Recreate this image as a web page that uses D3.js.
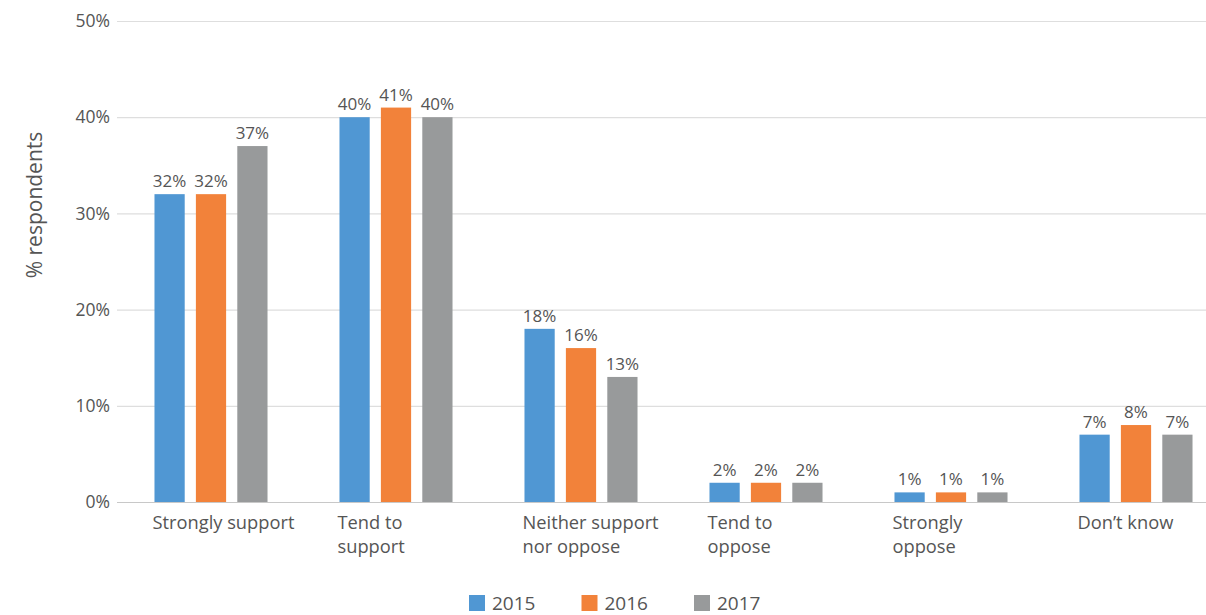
<!DOCTYPE html>
<html>
<head>
<meta charset="utf-8">
<script src="https://cdn.jsdelivr.net/npm/d3@7"></script>
<style>
  html, body { margin: 0; padding: 0; background: #ffffff; }
  svg { display: block; font-family: "Open Sans", "Noto Sans", sans-serif; }
</style>
</head>
<body>
<svg id="chart" width="1206" height="615"></svg>
<script>
// Survey answers, grouped by year
const categories = ["Strongly support", "Tend to support", "Neither support nor oppose", "Tend to oppose", "Strongly oppose", "Don\u2019t know"];
const categoryLines = [["Strongly support"], ["Tend to", "support"], ["Neither support", "nor oppose"], ["Tend to", "oppose"], ["Strongly", "oppose"], ["Don\u2019t know"]];
const years = ["2015", "2016", "2017"];
const values2015 = [32, 40, 18, 2, 1, 7];
const values2016 = [32, 41, 16, 2, 1, 8];
const values2017 = [37, 40, 13, 2, 1, 7];
const yTicks = [0, 10, 20, 30, 40, 50];
const colors = ["#5097d3", "#f2823a", "#989a9b"];

const series = [values2015, values2016, values2017];
const rows = categories.map((c, i) => ({
  category: c,
  lines: categoryLines[i],
  values: years.map((y, j) => ({ year: y, value: series[j][i], color: colors[j] }))
}));

const svg = d3.select("#chart");
const textColor = "#555555";

const x0 = d3.scaleBand().domain(categories).range([118.5, 1228.5]).paddingInner(0.389).paddingOuter(0.1945);
const x1 = d3.scaleBand().domain(years).range([0, x0.bandwidth()]).paddingInner(0.27).paddingOuter(0);
const y = d3.scaleLinear().domain([0, 50]).range([502, 21]);

// Horizontal gridlines
const yAxis = d3.axisLeft(y).tickValues(yTicks).tickSize(0).tickPadding(0).tickFormat(d => d + "%");
const gy = svg.append("g").attr("transform", "translate(117,0)").call(yAxis);
gy.select(".domain").remove();
gy.selectAll(".tick line")
  .attr("x2", 1206 - 117)
  .attr("stroke", d => d === 0 ? "#c8c8c8" : "#dedede")
  .attr("stroke-width", 1.2);
gy.selectAll(".tick text")
  .attr("x", -7)
  .attr("fill", textColor)
  .attr("font-size", 17.5)
  .attr("font-family", "'Open Sans', 'Noto Sans', sans-serif");

// Axis title
svg.append("text")
  .attr("transform", "translate(42,205) rotate(-90)")
  .attr("text-anchor", "middle")
  .attr("fill", textColor)
  .attr("font-size", 21)
  .text("% respondents");

// Bars and value labels
const groups = svg.selectAll("g.group").data(rows).join("g")
  .attr("class", "group")
  .attr("transform", d => `translate(${x0(d.category)},0)`);

groups.selectAll("rect").data(d => d.values).join("rect")
  .attr("x", d => x1(d.year))
  .attr("width", x1.bandwidth())
  .attr("y", d => y(d.value))
  .attr("height", d => y(0) - y(d.value))
  .attr("fill", d => d.color);

groups.selectAll("text.val").data(d => d.values).join("text")
  .attr("class", "val")
  .attr("x", d => x1(d.year) + x1.bandwidth() / 2)
  .attr("y", d => y(d.value) - 7)
  .attr("text-anchor", "middle")
  .attr("fill", textColor)
  .attr("font-size", 17)
  .text(d => d.value + "%");

// Category labels, left-aligned under the first bar of each group
const cat = groups.append("text")
  .attr("class", "cat")
  .attr("fill", textColor)
  .attr("font-size", 18.3);
cat.selectAll("tspan").data(d => d.lines).join("tspan")
  .attr("x", -2)
  .attr("y", (d, i) => 529 + i * 24)
  .text(d => d);

// Legend
const legend = svg.append("g").attr("transform", "translate(469,595)");
const legendX = d3.scalePoint().domain(years).range([0, 225]);
const items = legend.selectAll("g").data(years).join("g")
  .attr("transform", d => `translate(${legendX(d)},0)`);
items.append("rect")
  .attr("width", 16).attr("height", 16)
  .attr("fill", (d, i) => colors[i]);
items.append("text")
  .attr("x", 23).attr("y", 15)
  .attr("fill", textColor)
  .attr("font-size", 19)
  .text(d => d);
</script>
</body>
</html>
